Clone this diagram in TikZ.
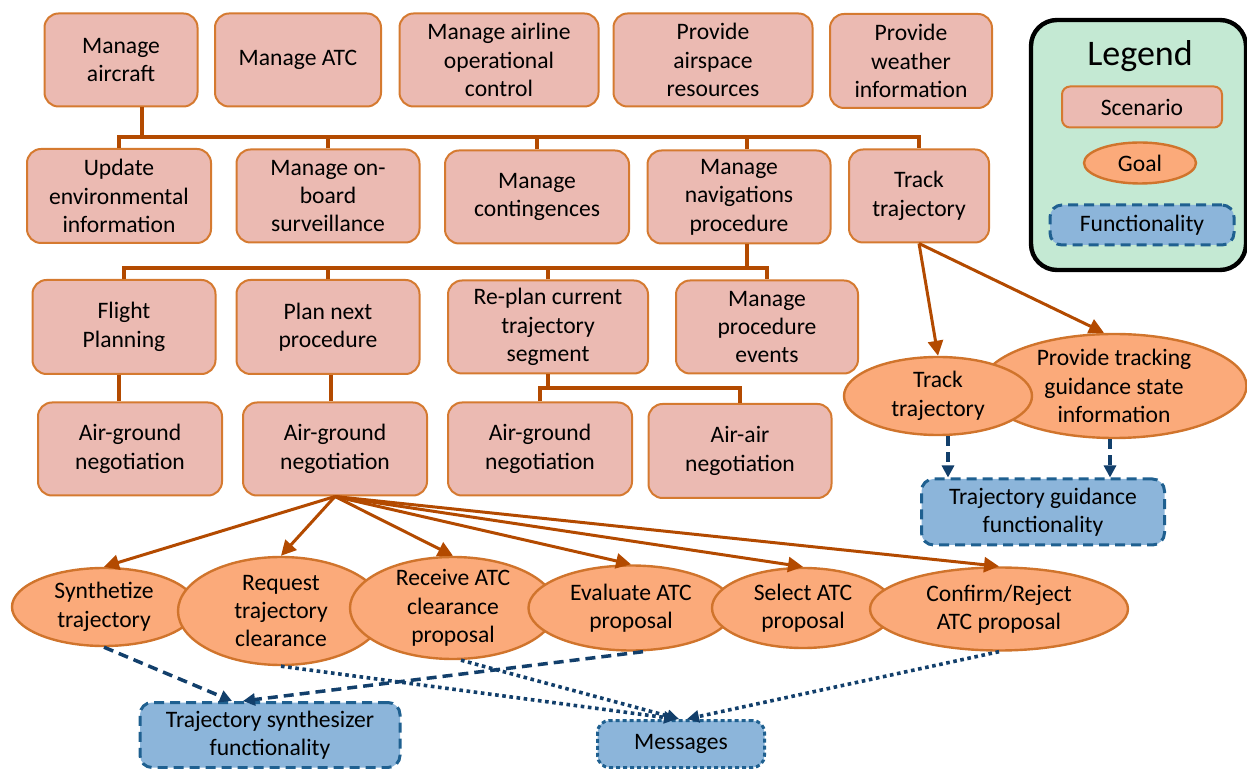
\documentclass[tikz,border=0pt]{standalone}
\usepackage{fontspec}
\setmainfont{Carlito}
\usetikzlibrary{shapes.geometric,arrows.meta}

\definecolor{scenfill}{HTML}{EBBAB2}
\definecolor{scenline}{HTML}{D57A30}
\definecolor{goalfill}{HTML}{FBAA7A}
\definecolor{goalline}{HTML}{D0742C}
\definecolor{treeline}{HTML}{B34A00}
\definecolor{funcfill}{HTML}{8CB5DA}
\definecolor{funcline}{HTML}{1F6090}
\definecolor{navy}{HTML}{123F6B}
\definecolor{legfill}{HTML}{C4E9D3}

\begin{document}
\begin{tikzpicture}[x=0.5pt,y=-0.5pt,
  txt/.style={font=\fontsize{11.8}{14.2}\selectfont, align=center},
  sz/.style 2 args={minimum width=#1*0.5pt, minimum height=#2*0.5pt},
  scen/.style={txt, draw=scenline, fill=scenfill, line width=1pt, rounded corners=7pt, inner sep=1pt},
  goal/.style={ellipse, draw=goalline, fill=goalfill, line width=1.2pt, inner sep=0pt},
  gtxt/.style={txt, inner sep=0pt},
  func/.style={txt, draw=funcline, fill=funcfill, line width=1.5pt, rounded corners=6pt, dash pattern=on 5pt off 3pt, inner sep=1pt},
  msgbox/.style={func, dash pattern=on 2pt off 1.5pt},
  tree/.style={draw=treeline, line width=2pt},
  treearrow/.style={draw=treeline, line width=1.5pt, -{Triangle[length=7.5pt,width=7.5pt]}},
  dasharrow/.style={draw=navy, line width=1.75pt, dash pattern=on 5pt off 3pt, -{Triangle[length=6pt,width=6pt]}},
  dotarrow/.style={draw=navy, line width=1.8pt, dash pattern=on 1.8pt off 1.8pt, -{Triangle[length=6pt,width=6pt]}}
]
\useasboundingbox (0,0) rectangle (1247,769);

% scenarios, first row
\node[scen, sz={153}{93}] (ma) at (121,60) {Manage\\aircraft};
\node[scen, sz={166}{93}] (matc) at (298,60) {Manage ATC};
\node[scen, sz={199}{93}] (maoc) at (499,60) {Manage airline\\operational\\control};
\node[scen, sz={199}{93}] (par) at (713,60) {Provide\\airspace\\resources};
\node[scen, sz={162}{94}] (pwi) at (911,61) {Provide\\weather\\information};

% second row
\node[scen, sz={184}{94}] (ue) at (119,196) {Update\\environmental\\information};
\node[scen, sz={183}{93}] (mob) at (328,196) {Manage on-\\board\\surveillance};
\node[scen, sz={184}{93}] (mc) at (537,197) {Manage\\contingences};
\node[scen, sz={183}{93}] (mnp) at (739,197) {Manage\\navigations\\procedure};
\node[scen, sz={140}{93}] (tt) at (919,196) {Track\\trajectory};

% third row
\node[scen, sz={183}{94}] (fp) at (124,327) {Flight\\Planning};
\node[scen, sz={183}{94}] (pnp) at (328,327) {Plan next\\procedure};
\node[scen, sz={200}{93}] (rp) at (548,327) {Re-plan current\\trajectory\\segment};
\node[scen, sz={182}{93}] (mpe) at (767,327) {Manage\\procedure\\events};

% fourth row
\node[scen, sz={184}{93}] (ag1) at (130,449) {Air-ground\\negotiation};
\node[scen, sz={184}{93}] (ag2) at (335,449) {Air-ground\\negotiation};
\node[scen, sz={184}{93}] (ag3) at (540,449) {Air-ground\\negotiation};
\node[scen, sz={183}{94}] (aa) at (740,451) {Air-air\\negotiation};

% tree connectors
\coordinate (busA) at (142,137);
\coordinate (busB) at (747,268);
\coordinate (busC) at (548,388);
\draw[tree] (ma.south -| busA) -- (busA);
\draw[tree] (ue.north) |- (tt.north |- busA) -- (tt.north);
\draw[tree] (mob.north) -- (mob.north |- busA);
\draw[tree] (mc.north) -- (mc.north |- busA);
\draw[tree] (busB |- mnp.north) -- (busB |- busA);
\draw[tree] (busB |- mnp.south) -- (busB);
\draw[tree] (fp.north) |- (mpe.north |- busB) -- (mpe.north);
\draw[tree] (pnp.north) -- (pnp.north |- busB);
\draw[tree] (rp.north) -- (rp.north |- busB);
\draw[tree] ([xshift=-2.5pt]fp.south) -- ([xshift=-2.5pt]fp.south |- ag1.north);
\draw[tree] ([xshift=1.5pt]pnp.south) -- ([xshift=1.5pt]pnp.south |- ag2.north);
\draw[tree] (rp.south) -- (rp.south |- busC);
\draw[tree] (ag3.north) |- (aa.north |- busC) -- (aa.north);

% tracking goals
\node[goal, sz={265}{104}, label={[gtxt]center:{Provide tracking\\guidance state\\information}}] (pte) at (1114,386) {};
\node[goal, sz={188}{78}, label={[gtxt]center:{Track\\trajectory}}] (tte) at (938,396) {};
\node[func, sz={243}{66}] (tgf) at (1043,512) {Trajectory guidance\\functionality};

\draw[treearrow] (tt.south) -- (tte.north);
\draw[treearrow] (tt.south) -- ([xshift=-5pt]pte.north);
\draw[dasharrow] ([xshift=5pt]tte.south) -- ([xshift=5pt]tte.south |- tgf.north);
\draw[dasharrow] ([xshift=-2pt]pte.south) -- ([xshift=-2pt]pte.south |- tgf.north);

% negotiation goals
\node[goal, sz={184}{78}, label={[gtxt]center:{Synthetize\\trajectory}}] (syn) at (104,607) {};
\node[goal, sz={206}{108}, label={[gtxt]center:{Request\\trajectory\\clearance}}] (req) at (281,611) {};
\node[goal, sz={206}{102}, label={[gtxt]center:{Receive ATC\\clearance\\proposal}}] (rec) at (453,608) {};
\node[goal, sz={205}{85}, label={[gtxt]center:{Evaluate ATC\\proposal}}] (eva) at (631,608) {};
\node[goal, sz={182}{80}, label={[gtxt]center:{Select ATC\\proposal}}] (sel) at (803,608) {};
\node[goal, sz={258}{83}, label={[gtxt]center:{Confirm/Reject\\ATC proposal}}] (conf) at (999,609) {};

\foreach \g in {syn,req,rec,eva,sel,conf}
  \draw[treearrow] (ag2.south) -- (\g.north);

% functionalities
\node[func, sz={260}{65}] (tsf) at (270,735) {Trajectory synthesizer\\functionality};
\node[msgbox, sz={167}{47}] (msg) at (681,744) {Messages};

\draw[dasharrow] (syn.south) -- ([xshift=-19pt]tsf.north);
\draw[dasharrow] ([xshift=6pt]eva.south) -- ([xshift=-13.5pt]tsf.north);
\draw[dotarrow] (req.south) -- ([xshift=-2.5pt]msg.north);
\draw[dotarrow] ([xshift=4pt]rec.south) -- ([xshift=-1pt]msg.north);
\draw[dotarrow] (conf.south) -- ([xshift=3pt]msg.north);

% legend
\node[draw=black, line width=2.2pt, fill=legfill, rounded corners=13pt, sz={215}{250}] (legend) at (1138.5,145) {};
\node[font=\fontsize{18}{20}\selectfont] (legtitle) at (1140,56) {Legend};
\node[scen, rounded corners=4pt, sz={160}{41}] (legscen) at (1142,107) {Scenario};
\node[goal, sz={112}{41}, label={[gtxt]center:Goal}] (leggoal) at (1140,163) {};
\node[func, sz={184}{40}] (legfunc) at (1142,225) {Functionality};
\end{tikzpicture}
\end{document}
